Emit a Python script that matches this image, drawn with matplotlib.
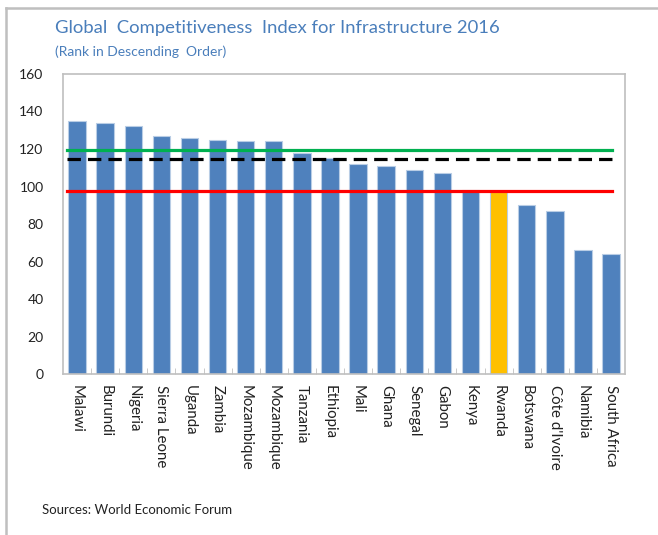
import matplotlib.pyplot as plt
from matplotlib.lines import Line2D

plt.rcParams['font.family'] = ['Lato', 'DejaVu Sans']

# Infrastructure pillar ranks, 2016
countries = ['Malawi', 'Burundi', 'Nigeria', 'Sierra Leone', 'Uganda', 'Zambia',
             'Mozambique', 'Mozambique', 'Tanzania', 'Ethiopia', 'Mali', 'Ghana',
             'Senegal', 'Gabon', 'Kenya', 'Rwanda', 'Botswana', "Côte d'Ivoire",
             'Namibia', 'South Africa']
ranks = [135, 134, 132, 127, 126, 125, 124, 124, 118, 115, 112, 111,
         109, 107, 98, 97, 90, 87, 66, 64]

# reference lines
green_level = 119.5
black_level = 114.8
red_level = 97.8

blue = '#4F81BD'
gold = '#FFC000'
colors = [gold if c == 'Rwanda' else blue for c in countries]

fig = plt.figure(figsize=(6.58, 5.35), dpi=100)
ax = fig.add_axes([0.0957, 0.3009, 0.8543, 0.5608])

x = list(range(len(countries)))
ax.bar(x, ranks, width=0.62, color=colors, edgecolor='#B9CDE5', linewidth=0.8, zorder=2)

xs = [-0.35, 19.02]
ax.plot(xs, [green_level] * 2, color='#00B050', lw=2.3, zorder=3)
ax.plot(xs, [black_level] * 2, color='black', lw=2.3, ls=(0, (4.2, 2.2)), zorder=3)
ax.plot(xs, [red_level] * 2, color='#FF0000', lw=2.3, zorder=3)

ax.set_xlim(-0.5, len(countries) - 0.5)
ax.set_ylim(0, 160)
ax.set_yticks(range(0, 161, 20))
ax.set_xticks(x)
ax.set_xticklabels(countries, rotation=-90, fontsize=10.8, color='#222222')
ax.tick_params(axis='x', length=0, pad=8)
ax.tick_params(axis='y', length=0, labelsize=10, colors='#222222', pad=14)
# small category separators on the bottom axis
ax.set_xticks([i + 0.5 for i in x[:-1]], minor=True)
ax.tick_params(axis='x', which='minor', direction='in', length=4, color='#BFBFBF')

for s in ax.spines.values():
    s.set_color('#BFBFBF')
    s.set_linewidth(1.2)

fig.text(0.0836, 0.948, 'Global  Competitiveness  Index for Infrastructure 2016',
         fontsize=13.3, color='#4A7EBB', va='center')
fig.text(0.0836, 0.903, '(Rank in Descending  Order)', fontsize=10,
         color='#4A7EBB', va='center')
fig.text(0.064, 0.047, 'Sources: World Economic Forum', fontsize=9.5,
         color='#222222', va='center')

# frame lines at left and top
fig.add_artist(Line2D([6 / 658, 1], [1 - 8 / 535] * 2, transform=fig.transFigure,
                      color='#BFBFBF', lw=1.8))
fig.add_artist(Line2D([6 / 658] * 2, [0, 1 - 8 / 535], transform=fig.transFigure,
                      color='#BFBFBF', lw=1.8))

fig.savefig('out.png', dpi=100)
